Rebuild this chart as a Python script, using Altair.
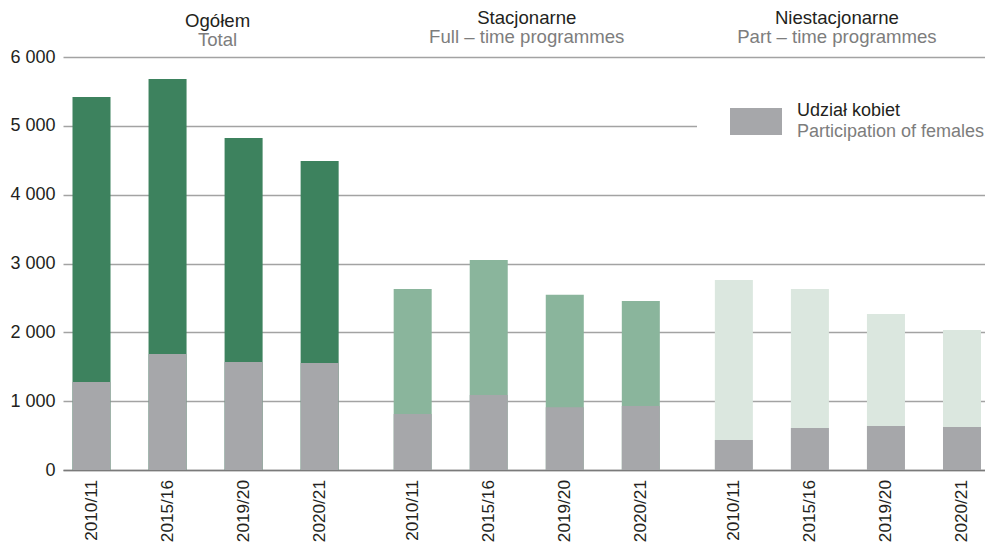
import altair as alt
import pandas as pd

# ---- data ----
groups = ["Ogółem", "Stacjonarne", "Niestacjonarne"]
groups_en = ["Total", "Full – time programmes", "Part – time programmes"]
years = ["2010/11", "2015/16", "2019/20", "2020/21"]
total_all = [5420, 5680, 4825, 4490]
total_full = [2630, 3050, 2545, 2455]
total_part = [2760, 2630, 2265, 2035]
female_all = [1280, 1685, 1570, 1555]
female_full = [815, 1090, 910, 930]
female_part = [435, 610, 640, 625]
y_ticks = [0, 1000, 2000, 3000, 4000, 5000, 6000]
legend_pl = "Udział kobiet"
legend_en = "Participation of females"

group_colors = ["#3d825e", "#8ab59c", "#dbe7df"]
female_color = "#a6a7aa"
dark = "#231f20"
grey_txt = "#7d7d7d"
FONT = "Liberation Sans"

rows = []
for g, tots, fems in zip(groups, [total_all, total_full, total_part],
                         [female_all, female_full, female_part]):
    for yr, t, f in zip(years, tots, fems):
        rows.append({"grupa": g, "rok": yr, "ogolem": t, "kobiety": f})
df = pd.DataFrame(rows)
gdf = pd.DataFrame({"grupa": groups, "en": groups_en})

W, H = 922, 413

x_enc = alt.X("grupa:N", sort=groups,
              scale=alt.Scale(paddingInner=0.1713, paddingOuter=0.021, align=0.704),
              axis=alt.Axis(labels=False, ticks=False, title=None, grid=False,
                            domain=True, domainColor="#7a7a7a", domainWidth=1.6))
xo_enc = alt.XOffset("rok:N", sort=years,
                     scale=alt.Scale(paddingInner=0.5, paddingOuter=0))
y_axis = alt.Axis(values=y_ticks, title=None, domain=False, ticks=False,
                  labelExpr="replace(format(datum.value, ','), ',', ' ')",
                  labelFontSize=18, labelFont=FONT, labelColor=dark, labelPadding=8,
                  grid=True, gridColor="#a3a3a3", gridWidth=1.3)

base = alt.Chart(df)
bars_total = base.mark_bar().encode(
    x=x_enc, xOffset=xo_enc,
    y=alt.Y("ogolem:Q", scale=alt.Scale(domain=[0, 6000], nice=False), axis=y_axis),
    color=alt.Color("grupa:N", scale=alt.Scale(domain=groups, range=group_colors), legend=None),
)
bars_fem = base.mark_bar(color=female_color).encode(
    x=x_enc, xOffset=xo_enc, y=alt.Y("kobiety:Q"),
)
year_text = base.mark_text(angle=270, align="right", baseline="middle",
                           fontSize=17.2, font=FONT, color=dark).encode(
    x=x_enc, xOffset=xo_enc, y=alt.value(H + 10), text="rok:N")

# group titles
TS = 18.6
title_layers = []
offsets = {groups[0]: (12, -30, -11), groups[1]: (0, -33.5, -14.5), groups[2]: (-11, -33.5, -14.5)}
for g in groups:
    dx, y1, y2 = offsets[g]
    sub = alt.Chart(gdf).transform_filter(alt.datum.grupa == g)
    title_layers.append(sub.mark_text(fontSize=TS, font=FONT, color=dark, baseline="alphabetic",
                                      align="center", dx=dx).encode(
        x=x_enc, y=alt.value(y1), text="grupa:N"))
    title_layers.append(sub.mark_text(fontSize=TS, font=FONT, color=grey_txt, baseline="alphabetic",
                                      align="center", dx=dx).encode(
        x=x_enc, y=alt.value(y2), text="en:N"))

# legend (decoration)
LS = 18
ldf = pd.DataFrame({"pl": [legend_pl], "en": [legend_en]})
lbase = alt.Chart(ldf)
leg_bg = lbase.mark_rect(color="white").encode(
    x=alt.value(634), x2=alt.value(W + 5), y=alt.value(30), y2=alt.value(100))
leg_box = lbase.mark_rect(color=female_color).encode(
    x=alt.value(667), x2=alt.value(719), y=alt.value(51), y2=alt.value(78))
leg_t1 = lbase.mark_text(fontSize=LS, font=FONT, color=dark, align="left", baseline="alphabetic").encode(
    x=alt.value(734), y=alt.value(59), text="pl:N")
leg_t2 = lbase.mark_text(fontSize=LS, font=FONT, color=grey_txt, align="left", baseline="alphabetic").encode(
    x=alt.value(734), y=alt.value(80), text="en:N")

chart = alt.layer(bars_total, bars_fem, year_text, *title_layers,
                  leg_bg, leg_box, leg_t1, leg_t2).properties(
    width=W, height=H,
    autosize=alt.AutoSizeParams(type="none"),
    padding={"left": 55, "top": 49, "right": 0, "bottom": 73},
).configure_view(stroke=None)

chart.save("out.html", embed_options={"renderer": "svg", "actions": False})
